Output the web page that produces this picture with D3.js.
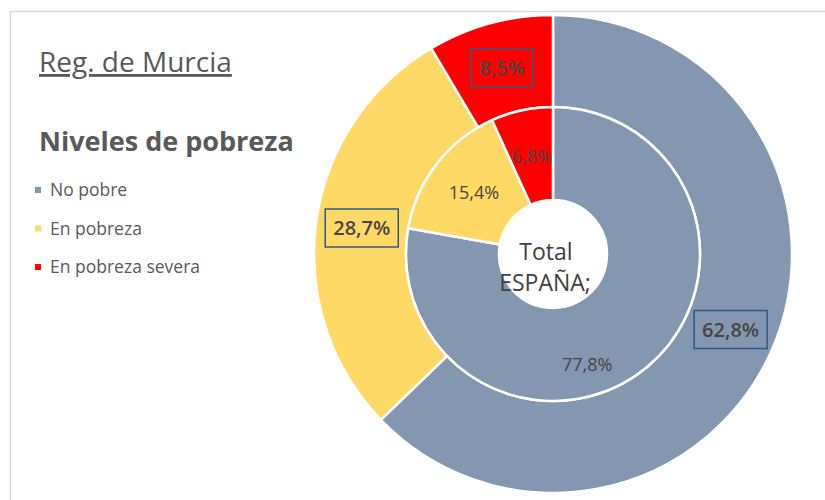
<!DOCTYPE html>
<html>
<head>
<meta charset="utf-8">
<script src="https://cdn.jsdelivr.net/npm/d3@7"></script>
<style>
  body { margin: 0; background: #fff; }
  svg { display: block; }
</style>
</head>
<body>
<div id="container"></div>
<script>
// Data
const categories = ["No pobre", "En pobreza", "En pobreza severa"];
const murciaValues = [62.8, 28.7, 8.5];   // outer ring
const espanaValues = [77.8, 15.4, 6.8];   // inner ring
const colours = ["#8497B0", "#FFD966", "#FF0000"];

const width = 825;
const height = 500;
const cx = 553, cy = 254;
const font = "'Open Sans', sans-serif";

const svg = d3.select("#container").append("svg")
  .attr("width", width)
  .attr("height", height);

// light frame of the chart area
svg.append("rect")
  .attr("x", 10.5).attr("y", 11.5)
  .attr("width", width).attr("height", height)
  .attr("fill", "none")
  .attr("stroke", "#D9D9D9")
  .attr("stroke-width", 1.5);

// Titles
svg.append("text")
  .attr("x", 39).attr("y", 72)
  .attr("font-family", font)
  .attr("font-size", 28)
  .attr("fill", "#595959")
  .attr("text-decoration", "underline")
  .text("Reg. de Murcia");

svg.append("text")
  .attr("x", 39).attr("y", 151)
  .attr("font-family", font)
  .attr("font-size", 27)
  .attr("font-weight", "bold")
  .attr("fill", "#595959")
  .text("Niveles de pobreza");

// Legend
const legend = svg.append("g");
categories.forEach((c, i) => {
  let y = 190 + i * 38.5;
  legend.append("rect")
    .attr("x", 35).attr("y", y - 3)
    .attr("width", 6).attr("height", 6)
    .attr("fill", colours[i]);
  legend.append("text")
    .attr("x", 50).attr("y", y)
    .attr("dy", "0.35em")
    .attr("font-family", font)
    .attr("font-size", 17.5)
    .attr("fill", "#595959")
    .text(c);
});

// Donut rings
const pie = d3.pie().sort(null).value(d => d);
const chart = svg.append("g").attr("transform", `translate(${cx},${cy})`);

const outerArc = d3.arc().innerRadius(147).outerRadius(239);
const innerArc = d3.arc().innerRadius(54).outerRadius(147);

const fmt = v => d3.format(".1f")(v).replace(".", ",") + "%";

chart.selectAll(".outer")
  .data(pie(murciaValues))
  .enter().append("path")
  .attr("class", "outer")
  .attr("d", outerArc)
  .attr("fill", (d, i) => colours[i])
  .attr("stroke", "#fff")
  .attr("stroke-width", 2.5);

chart.selectAll(".inner")
  .data(pie(espanaValues))
  .enter().append("path")
  .attr("class", "inner")
  .attr("d", innerArc)
  .attr("fill", (d, i) => colours[i])
  .attr("stroke", "#fff")
  .attr("stroke-width", 2.5);

// Outer labels (boxed), box sized to the text
const outerLabelArc = d3.arc().innerRadius(193).outerRadius(193);
const outerLabels = chart.selectAll(".olab")
  .data(pie(murciaValues))
  .enter().append("g")
  .attr("class", "olab")
  .attr("transform", d => `translate(${outerLabelArc.centroid(d)})`);

outerLabels.append("text")
  .attr("text-anchor", "middle")
  .attr("dy", "0.35em")
  .attr("font-family", font)
  .attr("font-size", 20)
  .attr("font-weight", 600)
  .attr("fill", "#454545")
  .text(d => fmt(d.data));

outerLabels.each(function () {
  const g = d3.select(this);
  const w = g.select("text").node().getBBox().width + 16;
  g.insert("rect", "text")
    .attr("x", -w / 2).attr("y", -19)
    .attr("width", w).attr("height", 38)
    .attr("fill", "none")
    .attr("stroke", "#2E5984")
    .attr("stroke-width", 1.5);
});

// Inner labels (the "No pobre" label was moved by hand in the original)
const innerLabelArc = d3.arc().innerRadius(100).outerRadius(100);
const innerShift = [[-30, 34], [0, 0], [0, 0]];
chart.selectAll(".ilab")
  .data(pie(espanaValues))
  .enter().append("text")
  .attr("class", "ilab")
  .attr("transform", (d, i) => {
    const [x, y] = innerLabelArc.centroid(d);
    return `translate(${x + innerShift[i][0]},${y + innerShift[i][1]})`;
  })
  .attr("text-anchor", "middle")
  .attr("dy", "0.35em")
  .attr("font-family", font)
  .attr("font-size", 18)
  .attr("fill", "#454545")
  .text(d => fmt(d.data));

// Centre text
chart.append("text")
  .attr("x", -7).attr("y", -2)
  .attr("text-anchor", "middle")
  .attr("dy", "0.35em")
  .attr("font-family", font)
  .attr("font-size", 23)
  .attr("fill", "#404040")
  .text("Total");

chart.append("text")
  .attr("x", -8).attr("y", 29)
  .attr("text-anchor", "middle")
  .attr("dy", "0.35em")
  .attr("font-family", font)
  .attr("font-size", 23)
  .attr("fill", "#404040")
  .text("ESPAÑA;");
</script>
</body>
</html>
